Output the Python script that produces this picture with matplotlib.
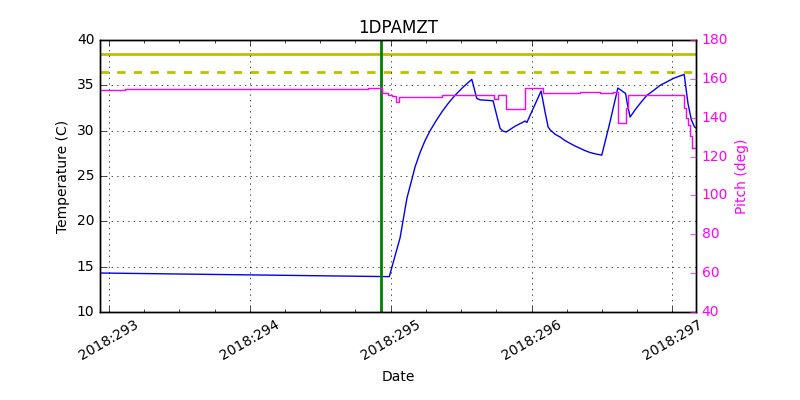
import datetime as dt
import matplotlib
matplotlib.use('Agg')
import matplotlib.pyplot as plt
import matplotlib.dates as mdates

# times are given as fractional day-of-year 2018
temp_days = [292.936, 294.990, 295.067, 295.088, 295.116, 295.150, 295.173, 295.209,
             295.244, 295.280, 295.327, 295.365, 295.408, 295.457, 295.514, 295.576,
             295.611, 295.635, 295.727, 295.756, 295.777, 295.798, 295.820, 295.884,
             295.955, 295.967, 296.068, 296.097, 296.118, 296.132, 296.168, 296.203,
             296.239, 296.274, 296.310, 296.345, 296.380, 296.414, 296.450, 296.499,
             296.558, 296.613, 296.632, 296.668, 296.680, 296.700, 296.736, 296.771,
             296.819, 296.864, 296.913, 296.963, 297.008, 297.048, 297.084, 297.111,
             297.135, 297.158, 297.168]
temp_vals = [14.3, 13.9, 18.2, 20.1, 22.6, 24.6, 26.0, 27.6,
             28.9, 30.0, 31.2, 32.1, 33.0, 33.9, 34.8, 35.66,
             33.56, 33.4, 33.3, 31.5, 30.25, 29.95, 29.85, 30.5,
             31.06, 30.9, 34.37, 32.0, 30.4, 30.1, 29.6, 29.3,
             28.9, 28.6, 28.3, 28.05, 27.8, 27.6, 27.45, 27.3,
             31.0, 34.7, 34.5, 34.1, 33.0, 31.5, 32.3, 33.0,
             33.9, 34.4, 35.0, 35.4, 35.77, 36.0, 36.2, 33.0,
             31.2, 30.4, 30.3]

pitch_days = [292.936, 293.114, 294.842, 294.937, 294.982, 295.008, 295.038, 295.062,
              295.365, 295.734, 295.759, 295.820, 295.952, 296.084, 296.345, 296.487,
              296.580, 296.615, 296.668, 296.686, 297.080, 297.098, 297.114, 297.126,
              297.138, 297.168]
pitch_vals = [154.1, 154.8, 155.3, 152.6, 151.7, 151.0, 148.3, 150.9,
              151.5, 149.5, 151.7, 144.3, 155.1, 152.6, 153.1, 152.6,
              153.1, 137.4, 145.0, 151.8, 145.0, 140.0, 136.0, 130.5,
              124.5, 124.5]

planning_limit = 38.45
caution_limit = 36.45
event_day = 294.932
x_range = (292.936, 297.168)


def doy(d):
    return dt.datetime(2018, 1, 1) + dt.timedelta(days=d - 1)


plt.style.use('classic')
plt.rcParams['figure.facecolor'] = 'white'
plt.rcParams['savefig.facecolor'] = 'white'
plt.rcParams['font.size'] = 10

fig, ax = plt.subplots(figsize=(8, 4), dpi=100)
fig.subplots_adjust(left=0.125, right=0.87, bottom=0.22, top=0.9)

ax.plot([doy(d) for d in temp_days], temp_vals, color='b', lw=1)
ax.axhline(planning_limit, color='y', lw=2)
ax.axhline(caution_limit, color='y', lw=2, ls='--')
ax.axvline(doy(event_day), color='g', lw=2)

ax.set_xlim(doy(x_range[0]), doy(x_range[1]))
ax.set_ylim(10, 40)
ax.xaxis.set_major_locator(mdates.DayLocator())
ax.xaxis.set_minor_locator(mdates.HourLocator(byhour=[6, 12, 18]))
ax.xaxis.set_major_formatter(mdates.DateFormatter('%Y:%j'))
for lbl in ax.get_xticklabels():
    lbl.set_rotation(30)
    lbl.set_ha('center')
ax.grid(True)
ax.tick_params(axis='y', right=False)
ax.set_title('1DPAMZT')
ax.set_xlabel('Date')
ax.set_ylabel('Temperature (C)')

ax2 = ax.twinx()
ax2.plot([doy(d) for d in pitch_days], pitch_vals, color='magenta', lw=1,
         drawstyle='steps-post')
ax2.set_ylim(40, 180)
ax2.set_xlim(doy(x_range[0]), doy(x_range[1]))
ax2.set_ylabel('Pitch (deg)', color='magenta')
ax2.tick_params(axis='y', colors='magenta')
for lbl in ax2.get_yticklabels():
    lbl.set_color('magenta')

fig.savefig('out.png', dpi=100)
